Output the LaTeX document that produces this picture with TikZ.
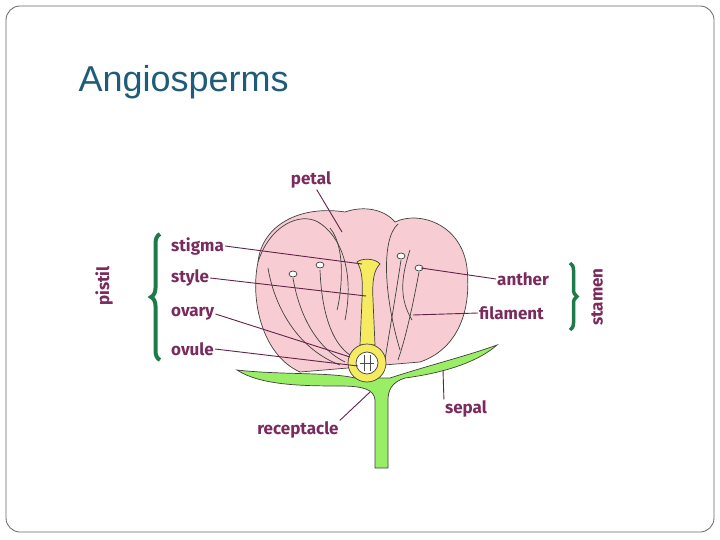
\documentclass[tikz,border=0pt]{standalone}
\usepackage{fontspec}
\setmainfont{Liberation Sans}
\newfontfamily\lab{Fira Sans}
\usetikzlibrary{decorations.pathreplacing}
\definecolor{pinkp}{HTML}{F7CDD3}
\definecolor{leaf}{HTML}{99EE66}
\definecolor{pist}{HTML}{F5EA60}
\definecolor{labc}{HTML}{7A2A5C}
\definecolor{ttl}{HTML}{1F5C7A}
\definecolor{brc}{HTML}{1E7A4A}
\begin{document}
\begin{tikzpicture}[x=1pt,y=-1pt,
  lbl/.style={text=labc,font=\lab\bfseries\fontsize{17}{17}\selectfont,inner sep=1pt},
  ptr/.style={draw=labc!80!black,line width=0.9pt},
  ol/.style={draw=black!75,line width=0.7pt}]
\useasboundingbox (0,0) rectangle (720,540);
\draw[black!60,line width=0.8pt,rounded corners=14pt] (6,6) rectangle (714,532);
\node[anchor=west,text=ttl,font=\fontsize{36}{36}\selectfont] (title) at (75,82) {Angiosperms};
% petals
\draw[ol,fill=pinkp] (300,372) .. controls (262,355) and (250,300) .. (258,262) .. controls (262,225) and (300,205) .. (345,212) .. controls (365,205) and (385,210) .. (395,222) .. controls (420,210) and (462,225) .. (467,268) .. controls (472,315) and (455,350) .. (420,362) -- cycle;
\draw[ol] (258,262) .. controls (270,225) and (300,212) .. (318,222) .. controls (340,235) and (355,270) .. (345,320);
\draw[ol] (400,350) .. controls (385,300) and (380,240) .. (398,224);
\draw[ol] (330,228) .. controls (348,250) and (340,300) .. (337,310);
% filaments
\draw[ol] (293,278) .. controls (300,320) and (320,350) .. (345,362);
\draw[ol] (320,270) .. controls (322,320) and (335,345) .. (350,355);
\draw[ol] (401,260) .. controls (395,300) and (388,340) .. (385,360);
\draw[ol] (419,272) .. controls (412,310) and (405,340) .. (398,360);
\draw[ol] (268,268) .. controls (275,310) and (300,350) .. (340,365);
\draw[ol] (410,250) .. controls (400,280) and (400,300) .. (412,320);
% anthers
\foreach \p in {(293,274),(320,265),(401,256),(419,268)} \draw[ol,fill=white] \p ellipse (4pt and 3pt);
% sepal and stem
\draw[ol,fill=leaf] (237,370) .. controls (280,375) and (330,372) .. (355,378) -- (390,378) .. controls (430,365) and (470,355) .. (497,345) .. controls (480,360) and (450,372) .. (405,378) .. controls (392,382) and (388,390) .. (388,400) -- (388,468) -- (375,468) -- (375,400) .. controls (374,390) and (365,386) .. (340,386) .. controls (300,386) and (260,385) .. (237,370) -- cycle;
% pistil
\draw[ol,fill=pist] (357,262) .. controls (362,258) and (375,258) .. (380,264) .. controls (374,270) and (372,280) .. (373,300) -- (375,345) -- (360,345) -- (362,300) .. controls (363,280) and (362,270) .. (357,262) -- cycle;
\draw[ol,fill=pist] (367,363) circle (19pt);
\draw[ol,fill=white] (367,363) circle (11pt);
\draw[black!70,line width=0.8pt] (364,355) -- (364,371) (370,355) -- (370,371) (360,363) -- (374,363);
% labels
\node[lbl] (petal) at (311,180) {petal};
\node[lbl,anchor=west] (stigma) at (170,246) {stigma};
\node[lbl,anchor=west] (style) at (170,278) {style};
\node[lbl,anchor=west] (ovary) at (170,314) {ovary};
\node[lbl,anchor=west] (ovule) at (170,349) {ovule};
\node[lbl,rotate=90] (pistil) at (104,286) {pistil};
\node[lbl,anchor=west] (anther) at (496,279) {anther};
\node[lbl,anchor=west] (filament) at (478,313) {filament};
\node[lbl,rotate=90] (stamen) at (597,297) {stamen};
\node[lbl] (sepal) at (466,409) {sepal};
\node[lbl] (recept) at (298,430) {receptacle};
\coordinate (cpet) at (342,232);
\coordinate (cstig) at (362,264);
\coordinate (cstyle) at (366,296);
\coordinate (cova) at (350,357);
\coordinate (covu) at (358,366);
\coordinate (canth) at (421,268);
\coordinate (cfil) at (413,315);
\coordinate (csep) at (443,370);
\coordinate (crec) at (370,392);
\draw[ptr] (petal) -- (cpet);
\draw[ptr] (stigma.east) -- (cstig);
\draw[ptr] (style.east) -- (cstyle);
\draw[ptr] (ovary.east) -- (cova);
\draw[ptr] (ovule.east) -- (covu);
\draw[ptr] (anther.west) -- (canth);
\draw[ptr] (filament.west) -- (cfil);
\draw[ptr] (sepal.north west) -- (csep);
\draw[ptr] (recept.north east) -- (crec);
\draw[brc,line width=4pt,decorate,decoration={brace,amplitude=9pt}] (160,360) -- (160,234);
\draw[brc,line width=3.5pt,decorate,decoration={brace,amplitude=7pt}] (570,263) -- (570,330);
\end{tikzpicture}
\end{document}
